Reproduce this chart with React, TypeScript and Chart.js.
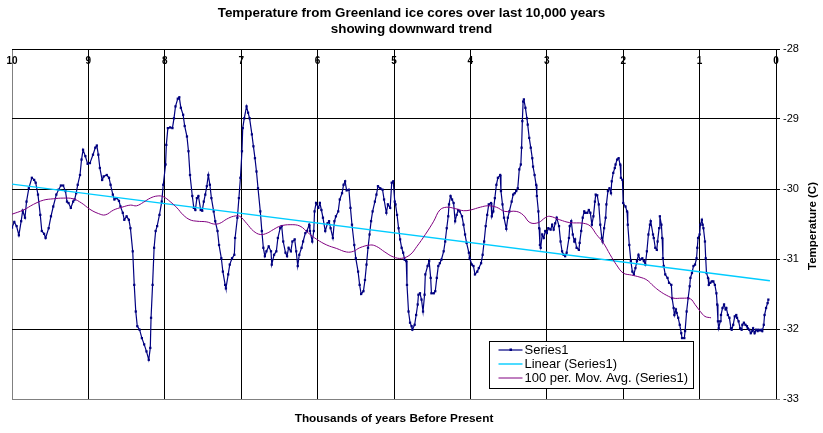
import { useEffect, useRef } from "react";
import { Chart, registerables } from "chart.js";

Chart.register(...registerables);

const ARIAL = "'Liberation Sans', Arial, sans-serif";

const TITLE_LINES = [
  "Temperature from Greenland ice cores over last 10,000 years",
  "showing downward trend",
];
const X_TITLE = "Thousands of years Before Present";
const Y_TITLE = "Temperature (C)";
const SERIES_LABELS = ["Series1", "Linear (Series1)", "100 per. Mov. Avg. (Series1)"];

const X_TICKS = [10, 9, 8, 7, 6, 5, 4, 3, 2, 1, 0];
const Y_TICKS = [-28, -29, -30, -31, -32, -33];

// thousands of years before present
const AGE = [
  10.0, 9.97, 9.94, 9.91, 9.88, 9.86, 9.83, 9.81, 9.78, 9.74, 9.71, 9.69, 9.66, 9.63, 9.61, 9.58,
  9.56, 9.52, 9.49, 9.46, 9.42, 9.39, 9.36, 9.33, 9.3, 9.28, 9.26, 9.23, 9.2, 9.18, 9.16, 9.14,
  9.11, 9.09, 9.07, 9.04, 9.01, 8.98, 8.94, 8.91, 8.89, 8.87, 8.85, 8.82, 8.8, 8.76, 8.73, 8.71,
  8.68, 8.66, 8.63, 8.6, 8.58, 8.55, 8.53, 8.5, 8.47, 8.45, 8.42, 8.4, 8.38, 8.36,
  8.33, 8.3, 8.27, 8.24, 8.21, 8.19, 8.18, 8.16, 8.14, 8.12, 8.1, 8.07, 8.04, 8.02, 7.99, 7.98,
  7.96, 7.93, 7.9, 7.88, 7.86, 7.83, 7.81, 7.79, 7.76, 7.74, 7.71, 7.69, 7.67, 7.64, 7.62, 7.6,
  7.58, 7.56, 7.53, 7.51, 7.49, 7.47, 7.45, 7.43, 7.41, 7.39, 7.36, 7.34, 7.31, 7.29, 7.26, 7.24,
  7.21, 7.2, 7.17, 7.15, 7.12, 7.09, 7.08, 7.05, 7.03, 7.01, 6.99, 6.98, 6.96, 6.93, 6.91, 6.89,
  6.86, 6.84, 6.82, 6.8, 6.78, 6.75, 6.73, 6.71, 6.69, 6.67,
  6.64, 6.61, 6.6, 6.57, 6.54, 6.52, 6.49, 6.47, 6.45, 6.42, 6.4, 6.38, 6.35, 6.33, 6.3, 6.28,
  6.26, 6.24, 6.21, 6.19, 6.16, 6.14, 6.11, 6.1, 6.07, 6.05, 6.04, 6.02, 5.99, 5.97, 5.95, 5.93,
  5.9, 5.87, 5.85, 5.83, 5.8, 5.78, 5.76, 5.73, 5.71, 5.68, 5.66, 5.64, 5.62, 5.59, 5.57, 5.55,
  5.52, 5.5, 5.47, 5.45, 5.43, 5.4, 5.38, 5.36, 5.34, 5.32, 5.3, 5.28, 5.25, 5.23, 5.21, 5.18,
  5.15, 5.13, 5.1, 5.08, 5.05, 5.03, 5.01,
  4.99, 4.98, 4.96, 4.94, 4.92, 4.9, 4.88, 4.86, 4.84, 4.83, 4.81, 4.79, 4.77, 4.76, 4.73, 4.71,
  4.69, 4.68, 4.66, 4.64, 4.62, 4.6, 4.59, 4.56, 4.54, 4.52, 4.51, 4.48, 4.46, 4.44, 4.42, 4.4,
  4.38, 4.35, 4.33, 4.31, 4.29, 4.28, 4.26, 4.24, 4.22, 4.2, 4.18, 4.16, 4.14, 4.11, 4.09, 4.07,
  4.05, 4.02, 4.01, 3.98, 3.96, 3.94, 3.91, 3.89, 3.86, 3.84, 3.82, 3.8, 3.78, 3.76, 3.73, 3.72,
  3.7, 3.68, 3.66, 3.64, 3.61, 3.6, 3.58, 3.56, 3.53, 3.51, 3.49, 3.46, 3.44, 3.42, 3.4, 3.38,
  3.36, 3.34, 3.33, 3.32, 3.31,
  3.3, 3.28, 3.26, 3.25, 3.23, 3.21, 3.19, 3.18, 3.16, 3.14, 3.13, 3.11, 3.1, 3.09, 3.08, 3.06,
  3.04, 3.02, 3.0, 2.98, 2.95, 2.93, 2.91, 2.89, 2.87, 2.84, 2.82, 2.8, 2.78, 2.76, 2.74, 2.71,
  2.7, 2.68, 2.66, 2.64, 2.63, 2.61, 2.58, 2.57, 2.55, 2.53, 2.51, 2.5, 2.47, 2.45, 2.43, 2.41,
  2.39, 2.37, 2.36, 2.34, 2.32, 2.3, 2.28, 2.27, 2.25, 2.23, 2.22, 2.2, 2.18, 2.16, 2.15, 2.13,
  2.11, 2.1, 2.08, 2.06, 2.04, 2.03, 2.01, 2.0, 1.97, 1.95, 1.94, 1.92, 1.9, 1.88, 1.86, 1.84,
  1.82, 1.8, 1.78, 1.75, 1.73, 1.71, 1.69, 1.67, 1.65,
  1.64, 1.61, 1.6, 1.58, 1.56, 1.55, 1.53, 1.52, 1.5, 1.49, 1.48, 1.47, 1.45, 1.42, 1.4, 1.37,
  1.36, 1.34, 1.33, 1.31, 1.3, 1.28, 1.26, 1.24, 1.23, 1.2, 1.19, 1.17, 1.15, 1.13, 1.12, 1.1,
  1.08, 1.06, 1.04, 1.03, 1.02, 1.0, 0.99, 0.97, 0.96, 0.95, 0.93, 0.92, 0.91, 0.89, 0.88, 0.86,
  0.84, 0.82, 0.8, 0.78, 0.77, 0.76, 0.75, 0.73, 0.72, 0.7, 0.68, 0.66, 0.65, 0.63, 0.61, 0.59,
  0.58, 0.56, 0.54, 0.52, 0.51, 0.49, 0.47, 0.45, 0.44, 0.42, 0.4, 0.38, 0.37, 0.35, 0.33, 0.31,
  0.3, 0.28, 0.26, 0.24, 0.23, 0.21, 0.19, 0.18, 0.16, 0.15, 0.13, 0.11, 0.1,
];

// temperature (C)
const TEMP = [
  -30.55, -30.47, -30.53, -30.66, -30.46, -30.31, -30.41, -30.18, -29.99, -29.84, -29.87, -29.91, -30.08, -30.37, -30.6, -30.64,
  -30.7, -30.56, -30.39, -30.25, -30.08, -30.01, -29.95, -29.95, -30.03, -30.18, -30.2, -30.27, -30.18, -30.15, -30.06, -29.94,
  -29.8, -29.58, -29.44, -29.53, -29.64, -29.63, -29.51, -29.41, -29.38, -29.51, -29.7, -29.87, -29.82, -29.8, -29.84, -29.94,
  -30.08, -30.15, -30.13, -30.17, -30.25, -30.34, -30.44, -30.39, -30.44, -30.56, -30.89, -31.37, -31.75, -31.96,
  -32.01, -32.13, -32.22, -32.32, -32.44, -32.27, -31.84, -31.37, -30.84, -30.6, -30.53, -30.37, -30.18, -29.94, -29.65, -29.37,
  -29.13, -29.12, -29.13, -28.99, -28.82, -28.71, -28.69, -28.84, -28.94, -29.1, -29.25, -29.46, -29.8, -30.1, -30.27, -30.3,
  -30.13, -30.1, -30.3, -30.31, -30.18, -30.08, -29.96, -29.8, -29.94, -30.13, -30.32, -30.46, -30.6, -30.8, -30.99, -31.18,
  -31.37, -31.42, -31.22, -31.08, -30.99, -30.94, -30.7, -30.41, -30.13, -29.84, -29.46, -29.13, -28.99, -28.82, -28.91, -28.99,
  -29.22, -29.39, -29.56, -29.75, -29.99, -30.32, -30.6, -30.84, -30.96, -30.89,
  -30.82, -30.89, -31.08, -30.94, -30.89, -30.7, -30.56, -30.53, -30.75, -30.91, -30.96, -30.84, -30.89, -30.75, -30.72, -30.89,
  -31.1, -30.94, -30.84, -30.75, -30.63, -30.6, -30.51, -30.6, -30.75, -30.6, -30.32, -30.2, -30.27, -30.2, -30.3, -30.41,
  -30.6, -30.49, -30.46, -30.56, -30.7, -30.46, -30.39, -30.32, -30.15, -30.06, -29.94, -29.89, -30.02, -30.01, -30.27, -30.51,
  -30.8, -30.99, -31.18, -31.37, -31.5, -31.46, -31.3, -31.08, -30.84, -30.65, -30.46, -30.32, -30.18, -30.08, -29.96, -29.99,
  -30.01, -30.15, -30.34, -30.22, -30.27, -29.91, -29.89,
  -30.18, -30.22, -30.37, -30.56, -30.72, -30.84, -30.91, -31.01, -31.03, -31.37, -31.75, -31.91, -31.96, -32.01, -31.94, -31.8,
  -31.65, -31.51, -31.49, -31.58, -31.75, -31.51, -31.22, -31.1, -31.03, -31.27, -31.49, -31.49, -31.46, -31.27, -31.1, -31.06,
  -31.01, -30.89, -30.75, -30.56, -30.39, -30.22, -30.1, -30.15, -30.2, -30.46, -30.37, -30.3, -30.32, -30.39, -30.51, -30.65,
  -30.77, -30.91, -30.99, -31.08, -31.1, -31.22, -31.18, -31.13, -31.06, -30.94, -30.75, -30.53, -30.37, -30.22, -30.2, -30.39,
  -30.32, -30.13, -29.94, -29.84, -29.8, -30.03, -30.22, -30.41, -30.57, -30.41, -30.32, -30.18, -30.08, -30.06, -30.03, -29.99,
  -29.72, -29.65, -29.41, -29.03, -28.75,
  -28.72, -28.84, -28.99, -29.08, -29.27, -29.41, -29.56, -29.68, -29.8, -29.94, -30.1, -30.32, -30.56, -30.8, -30.84, -30.65,
  -30.7, -30.6, -30.63, -30.56, -30.58, -30.51, -30.58, -30.49, -30.41, -30.53, -30.75, -30.89, -30.94, -30.96, -30.91, -30.7,
  -30.53, -30.46, -30.65, -30.75, -30.72, -30.84, -30.87, -30.77, -30.6, -30.41, -30.32, -30.34, -30.34, -30.3, -30.34, -30.51,
  -30.39, -30.18, -30.08, -30.09, -30.22, -30.51, -30.7, -30.75, -30.56, -30.41, -30.22, -30.03, -29.99, -30.06, -29.89, -29.77,
  -29.7, -29.65, -29.58, -29.56, -29.65, -29.84, -29.87, -30.2, -30.25, -30.32, -30.51, -30.8, -31.03, -31.18, -31.22, -31.13,
  -31.03, -30.94, -31.01, -30.99, -31.03, -31.08, -30.89, -30.65, -30.51,
  -30.46, -30.65, -30.7, -30.84, -30.87, -30.75, -30.56, -30.39, -30.51, -30.7, -30.99, -31.1, -31.22, -31.27, -31.34, -31.37,
  -31.56, -31.7, -31.8, -31.72, -31.77, -31.84, -31.94, -32.06, -32.13, -32.13, -32.03, -31.75, -31.56, -31.39, -31.27, -31.2,
  -31.1, -31.08, -30.99, -30.84, -30.7, -30.65, -30.51, -30.44, -30.51, -30.56, -30.75, -30.99, -31.2, -31.27, -31.37, -31.34,
  -31.32, -31.32, -31.37, -31.49, -31.65, -31.89, -31.99, -31.89, -31.8, -31.7, -31.65, -31.72, -31.7, -31.8, -31.84, -31.99,
  -32.01, -31.94, -31.82, -31.8, -31.84, -31.89, -31.99, -32.01, -31.94, -31.91, -31.94, -31.96, -31.99, -32.01, -32.06, -32.03,
  -31.99, -32.06, -32.01, -32.03, -32.01, -32.02, -32.01, -32.03, -31.94, -31.8, -31.7, -31.63, -31.58,
];

// Linear (Series1) trend line end points
const TREND_AGE = [10, 0.08];
const TREND_TEMP = [-29.93, -31.31];

// 100 per. moving average
const MA_AGE = [
  10.0, 9.85, 9.72, 9.59, 9.46, 9.33, 9.2, 9.09, 8.98, 8.87, 8.78, 8.67, 8.56, 8.45, 8.37, 8.28,
  8.19, 8.1, 8.02, 7.93, 7.84, 7.76, 7.67, 7.58, 7.45, 7.36, 7.28, 7.19, 7.1, 7.02, 6.93, 6.84,
  6.75, 6.66, 6.58, 6.49, 6.36, 6.23, 6.12, 6.01, 5.88, 5.75, 5.62, 5.53, 5.45, 5.31, 5.23, 5.12,
  5.01, 4.9, 4.79, 4.7, 4.59, 4.48, 4.4, 4.31, 4.2, 4.09, 4.0, 3.87, 3.77, 3.66, 3.55, 3.4,
  3.31, 3.22, 3.11, 3.02, 2.96, 2.83, 2.7, 2.52, 2.43, 2.35, 2.26, 2.17, 2.09, 2.0, 1.89, 1.78,
  1.69, 1.6, 1.52, 1.43, 1.34, 1.23, 1.12, 1.06, 0.99, 0.93, 0.85,
];
const MA_TEMP = [
  -30.36, -30.3, -30.22, -30.16, -30.14, -30.13, -30.14, -30.2, -30.29, -30.35, -30.37, -30.3, -30.26, -30.23, -30.24, -30.19,
  -30.13, -30.1, -30.11, -30.18, -30.27, -30.37, -30.44, -30.46, -30.47, -30.5, -30.49, -30.43, -30.39, -30.39, -30.49, -30.6,
  -30.65, -30.63, -30.58, -30.53, -30.51, -30.53, -30.63, -30.72, -30.8, -30.85, -30.9, -30.89, -30.84, -30.8, -30.82, -30.9,
  -30.97, -30.99, -30.94, -30.82, -30.65, -30.46, -30.3, -30.26, -30.28, -30.31, -30.3, -30.26, -30.24, -30.26, -30.32, -30.32,
  -30.37, -30.48, -30.48, -30.41, -30.39, -30.44, -30.48, -30.49, -30.53, -30.65, -30.77, -30.94, -31.08, -31.2, -31.23, -31.26,
  -31.3, -31.39, -31.46, -31.52, -31.56, -31.56, -31.57, -31.65, -31.75, -31.82, -31.84,
];

const toPoints = (xs: number[], ys: number[]) => xs.map((x, i) => ({ x, y: ys[i] }));

// vertical y-axis title, reading bottom to top, right of the tick labels
const yTitlePlugin = {
  id: "yTitle",
  afterDraw(chart: any) {
    const { ctx, chartArea } = chart;
    const x = chart.scales.y.right - 10;
    const y = (chartArea.top + chartArea.bottom) / 2 + 2;
    ctx.save();
    ctx.translate(x, y);
    ctx.rotate(-Math.PI / 2);
    ctx.font = `bold 11.5px ${ARIAL}`;
    ctx.fillStyle = "#000";
    ctx.textAlign = "center";
    ctx.textBaseline = "middle";
    ctx.fillText(Y_TITLE, 0, 0);
    ctx.restore();
  },
};

// Excel-style boxed legend inside the plot area
const boxLegendPlugin = {
  id: "boxLegend",
  afterDatasetsDraw(chart: any) {
    const { ctx, chartArea } = chart;
    const x = Math.round(chartArea.left + 477) + 0.5;
    const y = Math.round(chartArea.top + 292) + 0.5;
    const w = 204;
    const h = 47;
    ctx.save();
    ctx.fillStyle = "#fff";
    ctx.fillRect(x, y, w, h);
    ctx.strokeStyle = "#000";
    ctx.lineWidth = 1;
    ctx.strokeRect(x, y, w, h);
    ctx.font = `13px ${ARIAL}`;
    ctx.textBaseline = "middle";
    chart.data.datasets.forEach((ds: any, i: number) => {
      const ry = Math.round(y + 8.5 + i * 14);
      ctx.strokeStyle = ds.borderColor;
      ctx.lineWidth = ds.borderWidth;
      ctx.beginPath();
      ctx.moveTo(x + 9, ry);
      ctx.lineTo(x + 33, ry);
      ctx.stroke();
      if (ds.pointRadius > 0) {
        ctx.fillStyle = ds.borderColor;
        ctx.fillRect(x + 20, ry - 1.5, 2.5, 2.5);
      }
      ctx.fillStyle = "#000";
      ctx.fillText(ds.label, x + 35, ry + 0.5);
    });
    ctx.restore();
  },
};

export default function App() {
  const canvasRef = useRef<HTMLCanvasElement>(null);
  const chartRef = useRef<Chart | null>(null);

  useEffect(() => {
    if (!canvasRef.current) return;
    if (chartRef.current) chartRef.current.destroy();

    chartRef.current = new Chart(canvasRef.current, {
      type: "line",
      data: {
        datasets: [
          {
            label: SERIES_LABELS[0],
            data: toPoints(AGE, TEMP),
            borderColor: "#000080",
            backgroundColor: "#000080",
            borderWidth: 1.2,
            pointStyle: "rect",
            pointRadius: 1.6,
            pointBorderWidth: 0,
            pointBackgroundColor: "#000080",
            tension: 0,
            order: 2,
          },
          {
            label: SERIES_LABELS[1],
            data: toPoints(TREND_AGE, TREND_TEMP),
            borderColor: "#00CCFF",
            borderWidth: 1.4,
            pointRadius: 0,
            order: 1,
          },
          {
            label: SERIES_LABELS[2],
            data: toPoints(MA_AGE, MA_TEMP),
            borderColor: "#800080",
            borderWidth: 1,
            pointRadius: 0,
            tension: 0.4,
            order: 0,
          },
        ],
      },
      options: {
        responsive: false,
        animation: false,
        events: [],
        layout: { padding: 0 },
        plugins: {
          legend: { display: false },
          tooltip: { enabled: false },
          title: {
            display: true,
            text: TITLE_LINES,
            color: "#000",
            font: { family: ARIAL, size: 13.4, weight: "bold", lineHeight: "16px" },
            padding: { top: 5, bottom: 0 },
          },
          subtitle: {
            display: true,
            position: "bottom",
            fullSize: false,
            text: X_TITLE,
            color: "#000",
            font: { family: ARIAL, size: 11.8, weight: "bold", lineHeight: "13px" },
            padding: { top: 13, bottom: 8 },
          },
        },
        scales: {
          x: {
            type: "linear",
            position: "top",
            reverse: true,
            min: 0,
            max: 10,
            afterBuildTicks: (scale: any) => {
              scale.ticks = X_TICKS.map((v) => ({ value: v }));
            },
            afterFit: (scale: any) => {
              scale.height = 12;
            },
            grid: {
              drawTicks: false,
              lineWidth: 1,
              color: (c: any) => (c.tick && c.tick.value === 10 ? "#808080" : "#000000"),
            },
            border: { display: false },
            ticks: {
              mirror: true,
              padding: 6,
              maxRotation: 0,
              autoSkip: false,
              color: "#000",
              font: { family: ARIAL, size: 10, weight: "bold", lineHeight: 1.2 },
            },
          },
          y: {
            type: "linear",
            position: "right",
            min: -33,
            max: -28,
            afterBuildTicks: (scale: any) => {
              scale.ticks = Y_TICKS.map((v) => ({ value: v }));
            },
            afterFit: (scale: any) => {
              scale.width = 47;
            },
            grid: {
              drawTicks: true,
              tickLength: 4,
              lineWidth: 1,
              color: (c: any) => (c.tick && c.tick.value === -33 ? "#808080" : "#000000"),
            },
            border: { display: false },
            ticks: {
              padding: 3,
              autoSkip: false,
              color: "#000",
              font: { family: ARIAL, size: 11 },
            },
          },
          yl: {
            type: "linear",
            position: "left",
            display: true,
            grid: { display: false, drawTicks: false },
            border: { display: false },
            ticks: { display: false },
            afterFit: (scale: any) => {
              scale.width = 12;
            },
          },
        },
      },
      plugins: [yTitlePlugin, boxLegendPlugin],
    });

    return () => {
      if (chartRef.current) {
        chartRef.current.destroy();
        chartRef.current = null;
      }
    };
  }, []);

  return (
    <div style={{ position: "fixed", left: 0, top: 0, width: 823, height: 433, background: "#fff" }}>
      <canvas ref={canvasRef} width={823} height={433} style={{ display: "block" }}></canvas>
    </div>
  );
}
